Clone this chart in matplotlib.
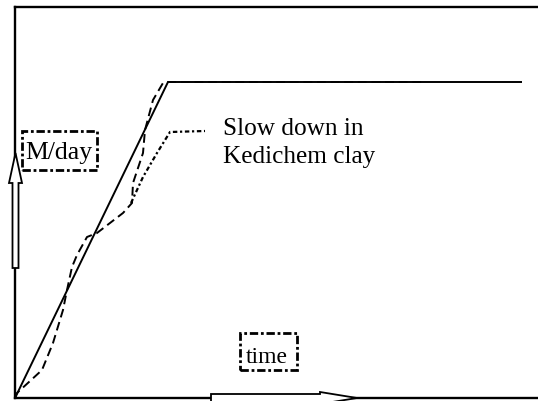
import matplotlib
matplotlib.use("Agg")
import matplotlib.pyplot as plt
from matplotlib.patches import FancyArrow, Rectangle

plt.rcParams['font.family'] = ['Liberation Serif', 'DejaVu Serif']

# design rate (straight ramp, then plateau)
plan_t = [0, 153, 507]
plan_rate = [0, 316, 316]

# actual rate (dashed)
real_t = [0, 2, 27, 38, 48, 52, 57, 62, 72, 82, 95, 108, 117, 118, 128, 130, 138, 148, 153, 408]
real_rate = [0, 5, 28, 55, 88, 108, 131, 143, 161, 165, 175, 185, 195, 215, 245, 268, 298, 315, 316, 316]

# slow down branch (dash-dot)
slow_t = [116, 128, 142, 155, 190]
slow_rate = [195, 221, 245, 266, 267]

fig = plt.figure(figsize=(5.38, 4.01), dpi=100)
ax = fig.add_axes([15 / 538, 3 / 401, 523 / 538, 391 / 401])
ax.set_xlim(0, 523)
ax.set_ylim(0, 391)
ax.set_xticks([])
ax.set_yticks([])
ax.spines['right'].set_visible(False)
for s in ['left', 'top', 'bottom']:
    ax.spines[s].set_linewidth(1.7)
    ax.spines[s].set_color('black')

ax.plot(plan_t, plan_rate, color='black', lw=1.4, solid_capstyle='butt')
ax.plot(real_t, real_rate, color='black', lw=1.4, linestyle=(0, (4.5, 2.5)))
ax.plot(slow_t, slow_rate, color='black', lw=1.6, linestyle=(0, (2, 1.2, 1, 1.2)))

# hollow arrows along the axes
ax.add_patch(FancyArrow(0.5, 130, 0, 115, width=6, head_width=13, head_length=30,
                        length_includes_head=True, fc='white', ec='black', lw=1.3,
                        clip_on=False, zorder=4))
ax.add_patch(FancyArrow(196, 0, 146, 0, width=8, head_width=12, head_length=37,
                        length_includes_head=True, fc='white', ec='black', lw=1.3,
                        clip_on=False, zorder=4))

# labels in dash-dot boxes
ax.add_patch(Rectangle((7, 228), 75, 39, fill=False, ec='black', lw=2,
                       linestyle=(0, (3, 1, 1, 1)), clip_on=False))
ax.text(10, 239, 'M/day', fontsize=18.5, va='baseline', ha='left')
ax.add_patch(Rectangle((225, 28), 57, 37, fill=False, ec='black', lw=2,
                       linestyle=(0, (3, 1, 1, 1)), clip_on=False))
ax.text(231, 35, 'time', fontsize=17, va='baseline', ha='left')

ax.text(208, 263, 'Slow down in', fontsize=18.2, va='baseline', ha='left')
ax.text(208, 235, 'Kedichem clay', fontsize=18.2, va='baseline', ha='left')

fig.savefig('out.png', dpi=100)
